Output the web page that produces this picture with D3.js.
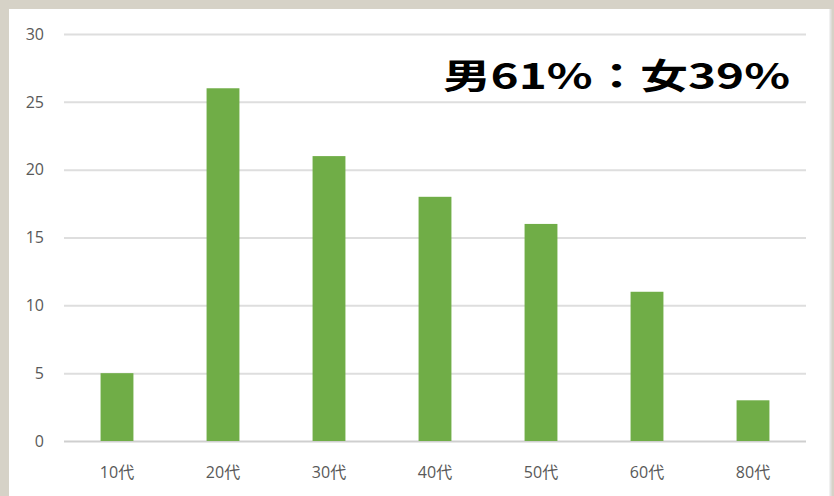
<!DOCTYPE html>
<html>
<head>
<meta charset="utf-8">
<script src="https://cdn.jsdelivr.net/npm/d3@7"></script>
<style>
  html, body { margin: 0; padding: 0; background: #d6d2c7; }
  svg { display: block; }
</style>
</head>
<body>
<div id="chart"></div>
<script>
// data
let categories = ['10代', '20代', '30代', '40代', '50代', '60代', '80代']
let values = [5, 26, 21, 18, 16, 11, 3]
let yTicks = [0, 5, 10, 15, 20, 25, 30]
let headline = '男61%：女39%'

let width = 834
let height = 496
let margin = {top: 34, right: 28, bottom: 55, left: 64}

let svg = d3.select('#chart')
            .append('svg')
            .attr('width', width)
            .attr('height', height)

// beige frame + white card
svg.append('rect')
  .attr('width', width).attr('height', height)
  .attr('fill', '#d6d2c7')
svg.append('rect')
  .attr('x', 9).attr('y', 9)
  .attr('width', 821).attr('height', height - 9)
  .attr('fill', '#ffffff')
svg.append('line')
  .attr('x1', 830.5).attr('x2', 830.5)
  .attr('y1', 9).attr('y2', height)
  .attr('stroke', '#e4e4e4').attr('stroke-width', 2)

let x = d3.scaleBand()
          .domain(categories)
          .range([margin.left, width - margin.right])
          .paddingInner(0.69)
          .paddingOuter(0.345)
let y = d3.scaleLinear()
          .domain([0, 30])
          .range([441, margin.top])

// gridlines
svg.append('g')
  .selectAll('line')
  .data(yTicks)
  .enter()
  .append('line')
  .attr('x1', margin.left)
  .attr('x2', width - margin.right)
  .attr('y1', d => y(d) + 0.5)
  .attr('y2', d => y(d) + 0.5)
  .attr('stroke', d => d === 0 ? '#cfcfcf' : '#dedede')
  .attr('stroke-width', 2)

// y labels
svg.append('g')
  .selectAll('text')
  .data(yTicks)
  .enter()
  .append('text')
  .attr('x', 44)
  .attr('y', d => y(d))
  .attr('dy', '0.36em')
  .attr('text-anchor', 'end')
  .attr('font-family', 'Open Sans, sans-serif')
  .attr('font-size', 16)
  .attr('fill', '#595959')
  .text(d => d)

// bars
svg.selectAll('.bar')
  .data(values)
  .enter()
  .append('rect')
  .attr('class', 'bar')
  .attr('x', (d, i) => x(categories[i]))
  .attr('y', d => y(d))
  .attr('width', x.bandwidth())
  .attr('height', d => y(0) - y(d))
  .attr('fill', '#70ad47')

// x labels
svg.append('g')
  .selectAll('text')
  .data(categories)
  .enter()
  .append('text')
  .attr('x', d => x(d) + x.bandwidth() / 2)
  .attr('y', 478)
  .attr('text-anchor', 'middle')
  .attr('font-family', 'Open Sans, Noto Sans CJK JP, sans-serif')
  .attr('font-size', 16)
  .attr('fill', '#595959')
  .text(d => d)

// headline
svg.append('text')
  .attr('x', 443)
  .attr('y', 89)
  .attr('textLength', 347)
  .attr('lengthAdjust', 'spacingAndGlyphs')
  .attr('font-family', 'Noto Sans CJK JP, sans-serif')
  .attr('font-weight', 'bold')
  .attr('font-size', 35)
  .attr('fill', '#000000')
  .text(headline)
</script>
</body>
</html>
